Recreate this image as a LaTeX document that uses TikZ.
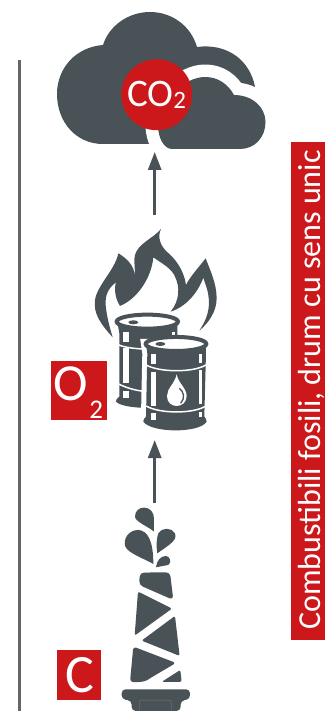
\documentclass[tikz,border=0pt]{standalone}
\usepackage{fontspec}
\setmainfont{Carlito}
\usetikzlibrary{arrows.meta}
\definecolor{ink}{HTML}{495257}
\definecolor{brick}{HTML}{CC181B}
\tikzset{
 inkfill/.style={fill=ink,draw=none},
 flow/.style={draw=ink,line width=2.7pt,-{Triangle[length=18pt,width=13pt]}},
 tag/.style={fill=brick,draw=none,inner sep=0pt,text=white,anchor=center},
}
\begin{document}
\begin{tikzpicture}[x=1pt,y=-1pt]
\useasboundingbox (0,0) rectangle (325,711);
\draw[black!60,line width=2.7pt] (19.3,60) -- (19.3,711);
% big cloud
\fill[ink] (152,144) -- (103,144) .. controls (76,144) and (57,122) .. (57,94)
 .. controls (57,68) and (76,47) .. (103,45)
 .. controls (109,26) and (128,12) .. (150,12)
 .. controls (172,12) and (191,26) .. (197,47)
 .. controls (227,43) and (250,60) .. (255,87)
 -- (240,100) -- (200,120) -- cycle;
% small cloud
\path[fill=ink,draw=white,line width=25pt,line join=round] (172,149) -- (240,149)
 .. controls (255,149) and (265.5,137) .. (265.5,122)
 .. controls (265.5,107) and (252,95) .. (234,95)
 .. controls (228,84) and (218,77) .. (205,77)
 .. controls (185,77) and (158,100) .. (158,125)
 .. controls (158,138) and (164,149) .. (172,149) -- cycle;
\fill[ink] (172,149) -- (240,149)
 .. controls (255,149) and (265.5,137) .. (265.5,122)
 .. controls (265.5,107) and (252,95) .. (234,95)
 .. controls (228,84) and (218,77) .. (205,77)
 .. controls (185,77) and (158,100) .. (158,125)
 .. controls (158,138) and (164,149) .. (172,149) -- cycle;
\node[circle,fill=brick,minimum size=71pt,inner sep=0pt] (co) at (156.7,94.7) {};
\node[text=white,font=\fontsize{39}{39}\selectfont,inner sep=0pt] (colabel) at (156.5,95) {CO\raisebox{-1.5pt}{\fontsize{25}{25}\selectfont 2}};
\coordinate (cloudfoot) at (154.7,152);
\coordinate (fireup) at (154.7,215);
\coordinate (barrelfoot) at (154.7,440);
\coordinate (towertop) at (154.7,503);
\draw[flow] (fireup) -- (cloudfoot);
\draw[flow] (towertop) -- (barrelfoot);
% flames and barrels
\begin{scope}[x=0.3333pt,y=-0.3333pt,shift={(120,660)}]
\fill[ink] (218,352) .. controls (180,310) and (160,280) .. (165,240)
 .. controls (172,195) and (225,150) .. (235,100)
 .. controls (255,112) and (285,135) .. (284,170)
 .. controls (283,180) and (278,190) .. (272,195)
 .. controls (295,165) and (278,135) .. (285,105)
 .. controls (295,70) and (340,55) .. (363,27)
 .. controls (352,50) and (360,75) .. (380,95)
 .. controls (405,115) and (432,150) .. (438,195)
 .. controls (450,170) and (478,140) .. (497,115)
 .. controls (510,150) and (530,190) .. (530,235)
 .. controls (530,275) and (505,310) .. (478,332)
 .. controls (500,300) and (512,265) .. (505,225)
 .. controls (502,205) and (495,190) .. (490,173)
 .. controls (475,215) and (440,260) .. (392,275)
 .. controls (420,240) and (420,200) .. (405,170)
 .. controls (395,145) and (365,130) .. (340,112)
 .. controls (335,170) and (295,235) .. (240,258)
 .. controls (225,235) and (222,205) .. (228,187)
 .. controls (205,205) and (195,225) .. (197,255)
 .. controls (200,290) and (210,325) .. (218,352) -- cycle;
% back barrel
\fill[ink] (232,305) -- (238,340) -- (238,530) .. controls (230,535) and (228,540) .. (228,545)
 .. controls (250,570) and (395,570) .. (415,545) -- (412,340) -- (412,305) -- cycle;
\fill[white] (249,335) rectangle (266,365);
\fill[white] (249,385) rectangle (266,490);
\fill[white] (249,512) rectangle (266,535);
\fill[white] (396,335) rectangle (405,348);
\draw[white,line width=1.5pt] (232,373) .. controls (270,392) and (380,392) .. (412,373);
\draw[white,line width=1.5pt] (232,490) .. controls (260,505) and (290,512) .. (318,515);
\filldraw[fill=white,draw=ink,line width=4pt] (322,305) ellipse [x radius=92,y radius=21];
\fill[ink] (280,307) ellipse [x radius=15,y radius=6];
% front barrel
\path[fill=ink,draw=white,line width=10pt] (318,372) -- (322,400) -- (318,590) .. controls (312,595) and (310,600) .. (310,605)
 .. controls (335,640) and (480,640) .. (500,605) .. controls (500,598) and (495,592) .. (493,590) -- (498,400) -- (498,372) -- cycle;
\fill[ink] (318,372) -- (322,400) -- (318,590) .. controls (312,595) and (310,600) .. (310,605)
 .. controls (335,640) and (480,640) .. (500,605) .. controls (500,598) and (495,592) .. (493,590) -- (498,400) -- (498,372) -- cycle;
\fill[white] (332,402) rectangle (348,432);
\fill[white] (332,456) rectangle (348,558);
\fill[white] (332,580) rectangle (348,600);
\fill[white] (478,402) rectangle (485,428);
\fill[white] (478,450) rectangle (485,552);
\fill[white] (478,575) rectangle (485,592);
\draw[white,line width=1.5pt] (318,435) .. controls (360,458) and (460,458) .. (498,435);
\draw[white,line width=1.5pt] (318,558) .. controls (360,582) and (460,582) .. (498,558);
\filldraw[fill=white,draw=ink,line width=4pt] (408,372) ellipse [x radius=91,y radius=21];
\fill[ink] (361,372) ellipse [x radius=15,y radius=6];
\fill[white] (410,463) .. controls (405,490) and (381,505) .. (381,528)
 .. controls (381,548) and (395,558) .. (410,558)
 .. controls (425,558) and (440,548) .. (440,528)
 .. controls (440,505) and (415,490) .. (410,463) -- cycle;
\draw[ink,line width=1.3pt] (418,505) .. controls (432,515) and (436,535) .. (422,550);
\end{scope}
% tower
\begin{scope}[x=0.3333pt,y=-0.3333pt,shift={(120,1470)}]
\fill[ink] (342,125) .. controls (325,110) and (285,95) .. (285,80) .. controls (285,62) and (298,53) .. (313,53)
 .. controls (330,53) and (342,68) .. (342,85) -- cycle;
\fill[ink] (340,222) .. controls (310,205) and (265,190) .. (256,170) .. controls (248,145) and (268,120) .. (295,120)
 .. controls (322,122) and (340,150) .. (340,222) -- cycle;
\fill[ink] (352,190) .. controls (348,165) and (350,145) .. (355,130) .. controls (365,112) and (395,112) .. (405,130)
 .. controls (412,150) and (395,160) .. (352,190) -- cycle;
\fill[ink] (348,232) .. controls (350,212) and (362,198) .. (378,198) .. controls (392,200) and (395,218) .. (385,225) -- cycle;
\fill[ink,rounded corners=4pt] (300,248) -- (390,247) -- (400,330) -- (297,285) -- cycle;
\fill[ink,rounded corners=2pt] (294,305) -- (396,356) -- (284,437) -- cycle;
\fill[ink,rounded corners=2pt] (405,378) -- (419,498) -- (305,452) -- cycle;
\fill[ink,rounded corners=3pt] (280,470) -- (408,519) -- (330,565) .. controls (315,575) and (300,577) .. (270,576) -- cycle;
\fill[ink,rounded corners=2pt] (421,540) -- (425,576) -- (365,576) -- cycle;
\fill[ink,rounded corners=4pt] (245,598) -- (450,598) -- (450,628) -- (422,632) -- (422,663) -- (275,663) -- (275,632) -- (245,628) -- cycle;
\draw[ink!85!white,line width=0.6pt,rounded corners=2pt] (298,663) -- (298,631) -- (395,631) -- (395,663);
\end{scope}
% tags
\node[tag,minimum width=56pt,minimum height=59pt] (otag) at (79,390.5) {};
\node[text=white,inner sep=0pt,font=\fontsize{52}{52}\selectfont] (olabel) at (70.3,384) {O};
\node[text=white,inner sep=0pt,font=\fontsize{27}{27}\selectfont] (osub) at (96.3,409.5) {2};
\node[tag,minimum width=44pt,minimum height=50pt] (ctag) at (79,675) {};
\node[text=white,inner sep=0pt,font=\fontsize{54}{54}\selectfont] (clabel) at (79.7,675) {C};
\node[tag,rotate=90,minimum width=498pt,minimum height=34pt] (side) at (308,391) {};
\node[text=white,inner sep=0pt,rotate=90,font=\fontsize{32}{32}\selectfont,anchor=base] (sidetext) at (320,390) {Combustibili fosili, drum cu sens unic};
\end{tikzpicture}
\end{document}
